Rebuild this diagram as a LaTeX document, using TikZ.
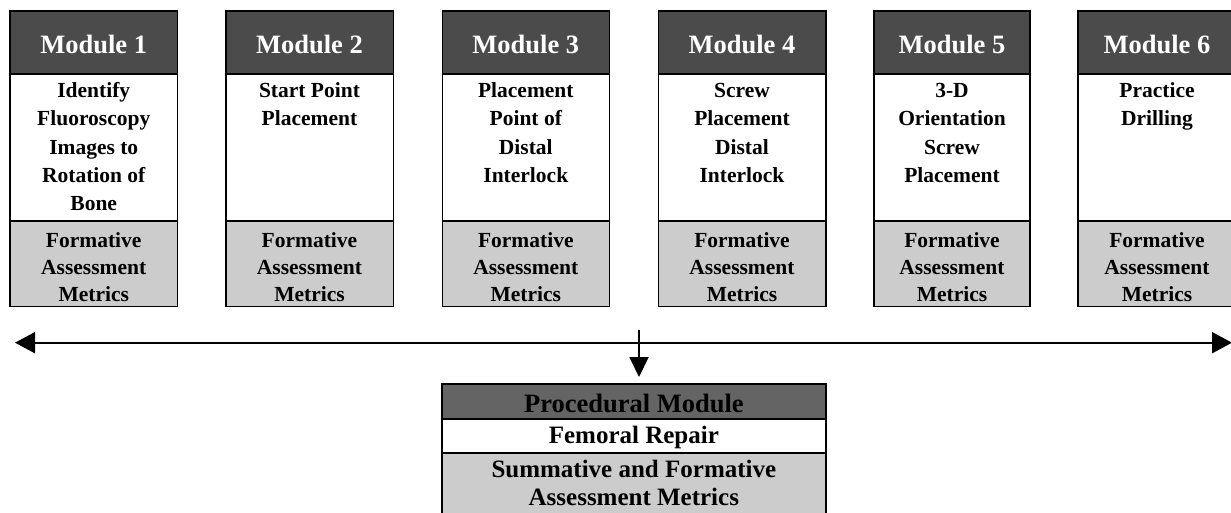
\documentclass[tikz,border=0pt]{standalone}
\usepackage{fontspec}
\setmainfont{Liberation Serif}
\usetikzlibrary{calc,arrows.meta}
\definecolor{hdrdark}{HTML}{4B4B4B}
\definecolor{procdark}{HTML}{646464}
\definecolor{lightgray}{HTML}{CCCCCC}
\tikzset{
  sect/.style={draw=black, line width=1.6pt, inner sep=0pt, outer sep=0pt, anchor=north west, rectangle},
  hdrtext/.style={inner sep=0pt, anchor=base, text=white, font=\fontsize{26.5}{30}\selectfont\bfseries},
  bodytext/.style={inner sep=0pt, anchor=north, align=center, font=\fontsize{21.5}{28.3}\selectfont\bfseries},
  graytext/.style={inner sep=0pt, anchor=north, align=center, font=\fontsize{21.5}{27}\selectfont\bfseries},
  conn/.style={line width=1.9pt},
}
\newcommand\mkmod[5]{%
  \pgfmathsetmacro\modw{#3-#2}%
  \node[sect, fill=hdrdark, minimum width=\modw pt, minimum height=63pt] (h#1) at (#2,11) {};
  \node[sect, fill=white, minimum width=\modw pt, minimum height=147pt] (b#1) at (#2,74) {};
  \node[sect, fill=lightgray, minimum width=\modw pt, minimum height=85.5pt] (f#1) at (#2,221) {};
  \node[hdrtext] (ht#1) at ($(h#1.north)+(0,42)$) {Module #1};
  \node[bodytext] (bt#1) at ($(b#1.north)+(0,3.4)$) {\strut #4};
  \node[graytext] (ft#1) at ($(f#1.north)+(0,7.1)$) {\strut Formative\\Assessment\\Metrics};
}
\begin{document}
\begin{tikzpicture}[x=1pt,y=-1pt]
\useasboundingbox (0,0) rectangle (1231,512);
\clip (0,0) rectangle (1231,512);
\mkmod{1}{10}{177.5}{Identify\\Fluoroscopy\\Images to\\Rotation of\\Bone}{}
\mkmod{2}{225.7}{393.3}{Start Point\\Placement}{}
\mkmod{3}{442.3}{609.3}{Placement\\Point of\\Distal\\Interlock}{}
\mkmod{4}{658.3}{825.7}{Screw\\Placement\\Distal\\Interlock}{}
\mkmod{5}{874}{1030}{3-D\\Orientation\\Screw\\Placement}{}
\mkmod{6}{1078}{1236}{Practice\\Drilling}{}
% procedural module
\node[sect, fill=procdark, minimum width=384.3pt, minimum height=35pt] (ph) at (441.7,384) {};
\node[sect, fill=white, minimum width=384.3pt, minimum height=33.7pt] (pb) at (441.7,419) {};
\node[sect, fill=lightgray, minimum width=384.3pt, minimum height=80pt] (pf) at (441.7,452.7) {};
\node[inner sep=0pt, anchor=base, font=\fontsize{26.5}{30}\selectfont\bfseries] (pht) at ($(ph.north)+(0,28)$) {Procedural Module};
\node[inner sep=0pt, anchor=base, font=\fontsize{25}{28}\selectfont\bfseries] (pbt) at ($(pb.north)+(0,24)$) {Femoral Repair};
\node[inner sep=0pt, anchor=north, align=center, font=\fontsize{25}{28}\selectfont\bfseries] (pft) at ($(pf.north)+(0,4.7)$) {\strut Summative and Formative\\Assessment Metrics};
% arrows
\coordinate (al) at (15,342.7);
\coordinate (ar) at (1232,342.7);
\coordinate (vt) at (639,330);
\draw[conn, {Triangle[length=20pt,width=21pt]}-{Triangle[length=20pt,width=21pt]}] (al) -- (ar);
\draw[conn, -{Triangle[length=20pt,width=19pt]}, shorten >=7pt] (vt) -- (vt |- ph.north);
\end{tikzpicture}
\end{document}
